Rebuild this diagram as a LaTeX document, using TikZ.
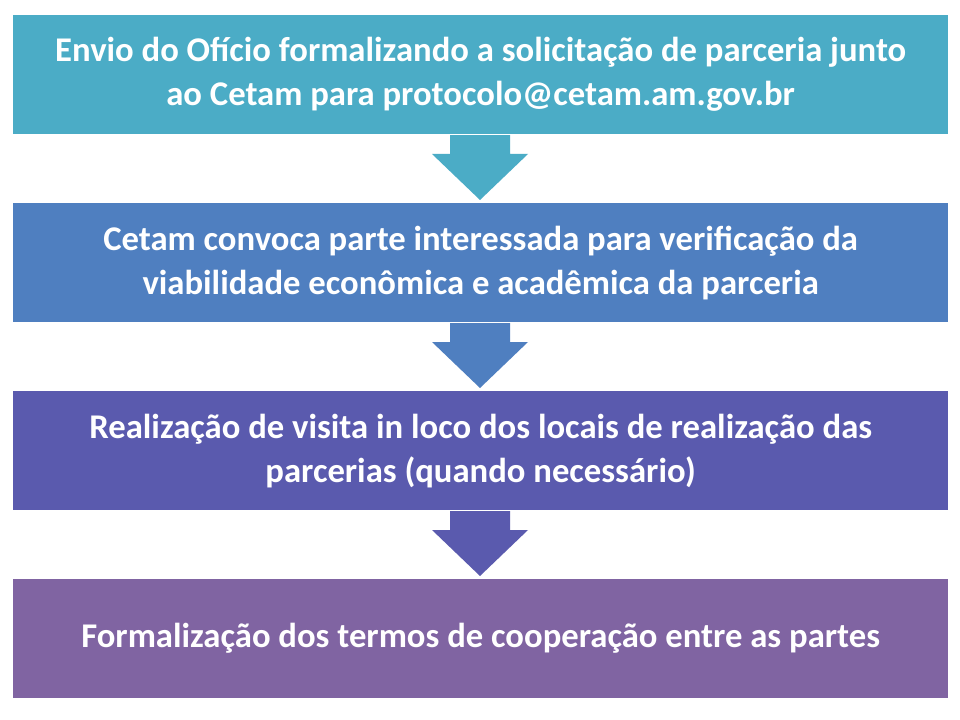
\documentclass[tikz,border=0pt]{standalone}
\usepackage{fontspec}
\setmainfont{Carlito}
\definecolor{c1}{HTML}{4BACC6}
\definecolor{c2}{HTML}{4F7FC0}
\definecolor{c3}{HTML}{5A5AAE}
\definecolor{c4}{HTML}{8064A2}
\begin{document}
\begin{tikzpicture}[x=0.75pt,y=-0.75pt,
  stepbox/.style={draw=white,line width=1pt,minimum width=936*0.75pt,minimum height=120*0.75pt,anchor=north west,inner sep=0pt,
    text=white,font=\fontsize{26}{33}\selectfont\bfseries,align=center}]
\useasboundingbox (0,0) rectangle (960,720);
\fill[white] (0,0) rectangle (960,720);
\foreach \c/\y in {c1/134,c2/322,c3/510}{
  \fill[\c] (450,\y) -- (510,\y) -- (510,\y+20) -- (528,\y+20) -- (480,\y+66) -- (432,\y+20) -- (450,\y+20) -- cycle;
}
\node[stepbox,fill=c1] (b1) at (12,14) {Envio do Ofício formalizando a solicitação de parceria junto\\ao Cetam para protocolo@cetam.am.gov.br};
\node[stepbox,fill=c2] (b2) at (12,202) {Cetam convoca parte interessada para verificação da\\viabilidade econômica e acadêmica da parceria};
\node[stepbox,fill=c3] (b3) at (12,390) {Realização de visita in loco dos locais de realização das\\parcerias (quando necessário)};
\node[stepbox,fill=c4] (b4) at (12,578) {Formalização dos termos de cooperação entre as partes};
\end{tikzpicture}
\end{document}
